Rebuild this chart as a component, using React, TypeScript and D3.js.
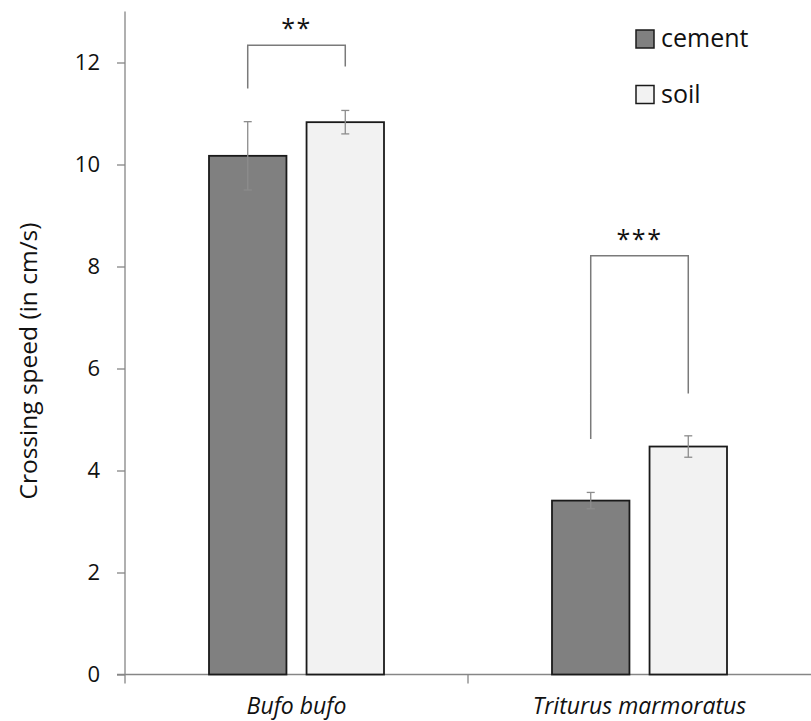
import { useEffect, useRef } from 'react'
import * as d3 from 'd3'

const CHART = {
    width: 811,
    height: 721,
    left: 125,
    right: 811,
    top: 11.5,
    bottom: 674.5,
}

const categories = ['Bufo bufo', 'Triturus marmoratus']
const series = ['cement', 'soil']
const cementMeans = [10.17, 3.41]
const cementErr = [0.67, 0.16]
const soilMeans = [10.83, 4.47]
const soilErr = [0.23, 0.21]
const yTicks = [0, 2, 4, 6, 8, 10, 12]
const yMax = 13
// significance brackets, one per category
const sigLabels = ['**', '***']
const sigTop = [12.34, 8.21]
const sigLeftEnd = [11.49, 4.62]
const sigRightEnd = [11.92, 5.51]

const FONT = "'Open Sans', 'Noto Sans', sans-serif"
const fills: any = { cement: '#808080', soil: '#f2f2f2' }

export default function App() {
    const svgRef = useRef<SVGSVGElement | null>(null)

    useEffect(() => {
        const svg = d3.select(svgRef.current)
            .attr('width', CHART.width)
            .attr('height', CHART.height)
        svg.selectAll('*').remove()

        const y = d3.scaleLinear().domain([0, yMax]).range([CHART.bottom, CHART.top])
        const x = d3.scaleBand().domain(categories).range([CHART.left, CHART.right])
        const inner = d3.scaleBand().domain(series).range([84, 259]).paddingInner(0.206)

        const rows = categories.map((c, i) => ({
            cat: c,
            vals: [
                { s: 'cement', v: cementMeans[i], e: cementErr[i] },
                { s: 'soil', v: soilMeans[i], e: soilErr[i] },
            ],
        }))

        /* y axis ticks + labels */
        const yAxis = svg.append('g')
            .attr('transform', `translate(${CHART.left},0)`)
            .call(d3.axisLeft(y).tickValues(yTicks).tickSize(8).tickPadding(17).tickFormat(d3.format('d')))
        yAxis.select('.domain').remove()
        yAxis.selectAll('line').attr('stroke', '#868686').attr('stroke-width', 1.3)
        yAxis.selectAll('text')
            .attr('font-family', FONT)
            .attr('font-size', '22px')
            .attr('fill', '#111')

        /* axis lines */
        svg.append('line')
            .attr('x1', CHART.left).attr('x2', CHART.left)
            .attr('y1', y(yMax)).attr('y2', CHART.bottom + 9)
            .attr('stroke', '#868686').attr('stroke-width', 1.3)
        svg.append('line')
            .attr('x1', CHART.left - 8).attr('x2', CHART.right)
            .attr('y1', y(0)).attr('y2', y(0))
            .attr('stroke', '#868686').attr('stroke-width', 1.3)
        svg.selectAll('.catTick')
            .data(categories.slice(1))
            .enter()
            .append('line')
            .attr('x1', (d: any) => x(d)!).attr('x2', (d: any) => x(d)!)
            .attr('y1', y(0)).attr('y2', CHART.bottom + 9)
            .attr('stroke', '#868686').attr('stroke-width', 1.3)

        /* category labels */
        svg.selectAll('.catLabel')
            .data(categories)
            .enter()
            .append('text')
            .attr('x', (d: any) => x(d)! + x.bandwidth() / 2)
            .attr('y', 714)
            .attr('text-anchor', 'middle')
            .attr('font-family', FONT)
            .attr('font-style', 'italic')
            .attr('font-size', '23px')
            .attr('fill', '#111')
            .text((d: any) => d)

        /* y title */
        svg.append('text')
            .attr('transform', `translate(37,361) rotate(-90)`)
            .attr('text-anchor', 'middle')
            .attr('font-family', FONT)
            .attr('font-size', '24.5px')
            .attr('fill', '#111')
            .text('Crossing speed (in cm/s)')

        /* bars */
        const groups = svg.selectAll('.grp')
            .data(rows)
            .enter()
            .append('g')
            .attr('transform', (d: any) => `translate(${x(d.cat)},0)`)
        groups.selectAll('rect')
            .data((d: any) => d.vals)
            .enter()
            .append('rect')
            .attr('x', (d: any) => inner(d.s)!)
            .attr('y', (d: any) => y(d.v))
            .attr('width', inner.bandwidth())
            .attr('height', (d: any) => y(0) - y(d.v))
            .attr('fill', (d: any) => fills[d.s])
            .attr('stroke', '#1a1a1a')
            .attr('stroke-width', 1.8)

        /* error bars */
        const errG = groups.selectAll('.err')
            .data((d: any) => d.vals)
            .enter()
            .append('g')
            .attr('transform', (d: any) => `translate(${inner(d.s)! + inner.bandwidth() / 2},0)`)
        errG.append('line')
            .attr('y1', (d: any) => y(d.v + d.e)).attr('y2', (d: any) => y(d.v - d.e))
            .attr('stroke', '#8c8c8c').attr('stroke-width', 1.3)
        errG.append('line')
            .attr('x1', -4).attr('x2', 4)
            .attr('y1', (d: any) => y(d.v + d.e)).attr('y2', (d: any) => y(d.v + d.e))
            .attr('stroke', '#8c8c8c').attr('stroke-width', 1.3)
        errG.append('line')
            .attr('x1', -4).attr('x2', 4)
            .attr('y1', (d: any) => y(d.v - d.e)).attr('y2', (d: any) => y(d.v - d.e))
            .attr('stroke', '#8c8c8c').attr('stroke-width', 1.3)

        /* significance brackets */
        categories.forEach((c, i) => {
            const x0 = x(c)! + inner('cement')! + inner.bandwidth() / 2
            const x1 = x(c)! + inner('soil')! + inner.bandwidth() / 2
            const path = d3.path()
            path.moveTo(x0, y(sigLeftEnd[i]))
            path.lineTo(x0, y(sigTop[i]))
            path.lineTo(x1, y(sigTop[i]))
            path.lineTo(x1, y(sigRightEnd[i]))
            svg.append('path')
                .attr('d', path.toString())
                .attr('fill', 'none')
                .attr('stroke', '#7a7a7a')
                .attr('stroke-width', 1.5)
            svg.append('text')
                .attr('x', (x0 + x1) / 2)
                .attr('y', y(sigTop[i]) - 8)
                .attr('text-anchor', 'middle')
                .attr('font-family', FONT)
                .attr('font-size', '25px')
                .attr('letter-spacing', '1.5px')
                .attr('fill', '#111')
                .text(sigLabels[i])
        })

        /* legend */
        const legend = svg.append('g')
        legend.selectAll('rect')
            .data(series)
            .enter()
            .append('rect')
            .attr('x', 636)
            .attr('y', (d: any, i: any) => 30 + i * 55.5)
            .attr('width', 18)
            .attr('height', 18)
            .attr('fill', (d: any) => fills[d])
            .attr('stroke', '#1a1a1a')
            .attr('stroke-width', 1.5)
        legend.selectAll('text')
            .data(series)
            .enter()
            .append('text')
            .attr('x', 661)
            .attr('y', (d: any, i: any) => 47 + i * 55.5)
            .attr('font-family', FONT)
            .attr('font-size', '25px')
            .attr('fill', '#111')
            .text((d: any) => d)
    }, [])

    return <svg ref={svgRef} style={{ position: 'absolute', left: 0, top: 0 }}></svg>
}
